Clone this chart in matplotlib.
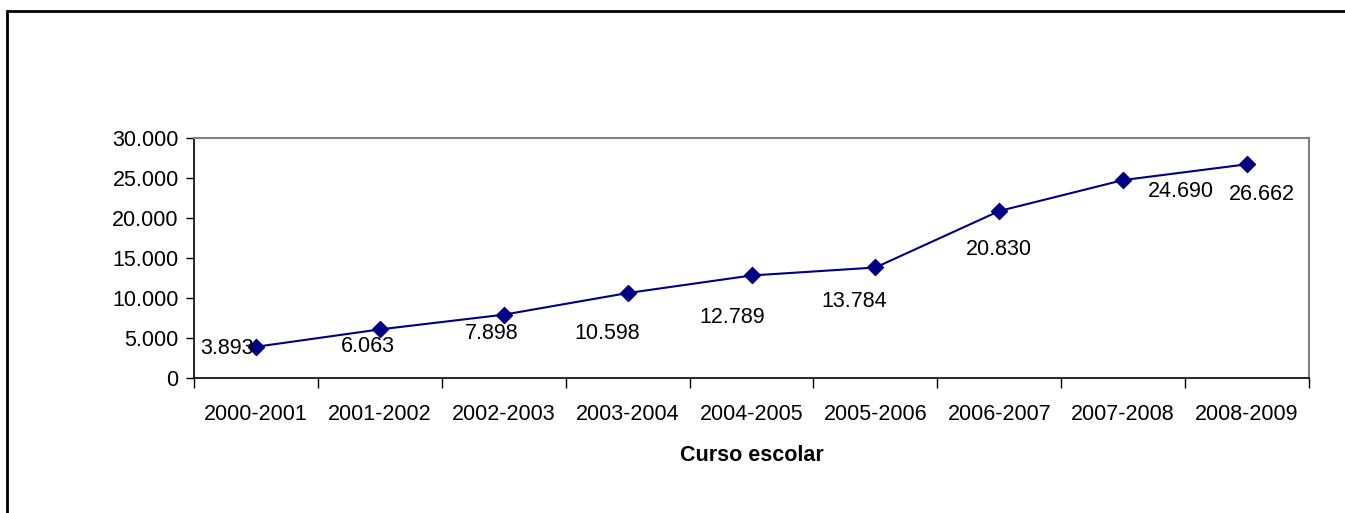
import matplotlib
matplotlib.use("Agg")
import matplotlib.pyplot as plt
from matplotlib.patches import Rectangle
from matplotlib.ticker import FuncFormatter, FixedLocator

cursos = ["2000-2001", "2001-2002", "2002-2003", "2003-2004", "2004-2005",
          "2005-2006", "2006-2007", "2007-2008", "2008-2009"]
alumnos = [3893, 6063, 7898, 10598, 12789, 13784, 20830, 24690, 26662]
etiquetas = ["3.893", "6.063", "7.898", "10.598", "12.789", "13.784", "20.830", "24.690", "26.662"]
y_ticks = [0, 5000, 10000, 15000, 20000, 25000, 30000]

# label offsets (pixels) relative to each point
offsets = [(-29, -2), (-12, -17), (-12, -19), (-20, -40), (-19, -42),
           (-21, -34), (0, -38), (58, -11), (15, -30)]

FS = 15.5
plt.rcParams['font.family'] = ['Liberation Sans', 'DejaVu Sans']
W, H = 1345, 513
fig = plt.figure(figsize=(W / 100, H / 100), dpi=100)
fig.patches.append(Rectangle((7 / W, -0.5), 2, 1.5 - 11 / H, transform=fig.transFigure,
                             fill=False, edgecolor='black', linewidth=2))

ax = fig.add_axes([194 / W, 1 - 378 / H, (1309 - 194) / W, (378 - 137.5) / H])
x = list(range(len(cursos)))
ax.plot(x, alumnos, color='#000080', linewidth=1.5, marker='D', markersize=8,
        markerfacecolor='#000080', markeredgecolor='#000080')
for xi, yi, lab, off in zip(x, alumnos, etiquetas, offsets):
    ax.annotate(lab, (xi, yi), xytext=off, textcoords='offset pixels',
                ha='center', va='center', fontsize=FS, color='black')

ax.set_xlim(-0.5, len(cursos) - 0.5)
ax.set_ylim(0, 30000)
ax.set_yticks(y_ticks)
ax.yaxis.set_major_formatter(FuncFormatter(lambda v, p: f"{int(v):,}".replace(",", ".")))
ax.set_xticks(x)
ax.set_xticklabels(cursos)
ax.xaxis.set_minor_locator(FixedLocator([i - 0.5 for i in range(len(cursos) + 1)]))
ax.tick_params(axis='x', which='major', length=0, pad=19, labelsize=FS)
ax.tick_params(axis='x', which='minor', length=7, width=1, color='black', direction='out')
ax.tick_params(axis='y', length=6, width=1, color='black', labelsize=FS, pad=5)
for s in ['left', 'bottom']:
    ax.spines[s].set_color('black')
    ax.spines[s].set_linewidth(1.2)
for s in ['top', 'right']:
    ax.spines[s].set_color('#808080')
    ax.spines[s].set_linewidth(1.5)
ax.set_xlabel("Curso escolar", fontsize=FS, fontweight='bold', labelpad=14)
fig.savefig("out.png", dpi=100)
